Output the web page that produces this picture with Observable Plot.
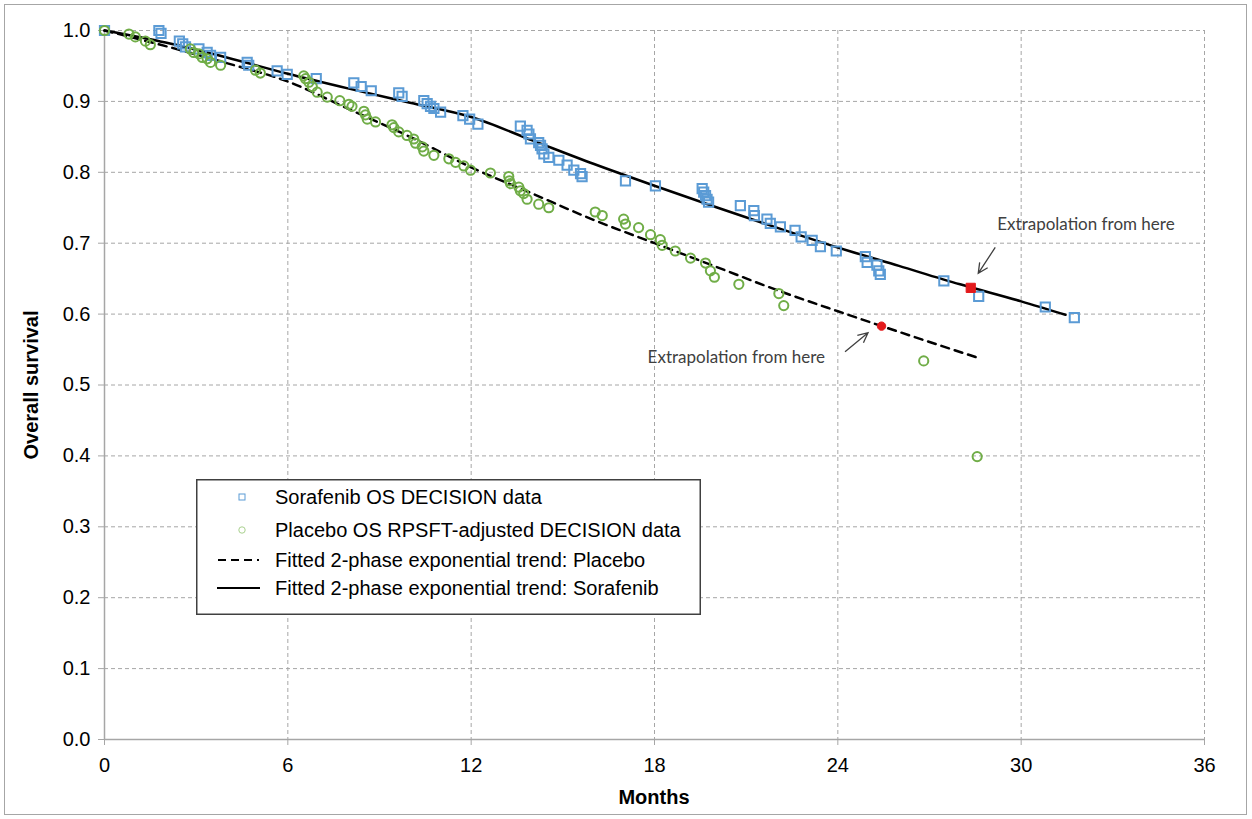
<!DOCTYPE html>
<html>
<head>
<meta charset="utf-8">
<script src="https://cdn.jsdelivr.net/npm/d3@7"></script>
<script src="https://cdn.jsdelivr.net/npm/@observablehq/plot@0.6"></script>
<style>
html,body{margin:0;padding:0;background:#fff;}
#wrap{position:relative;width:1252px;height:819px;font-family:"Liberation Sans",Arial,sans-serif;overflow:hidden;}
#border{position:absolute;left:4px;top:4px;width:1243px;height:811px;border:1px solid #a6a6a6;box-sizing:border-box;pointer-events:none;}
#chart{position:absolute;left:0;top:0;}
#ylab{position:absolute;left:31px;top:385px;transform:translate(-50%,-50%) rotate(-90deg);font-weight:bold;font-size:20px;white-space:nowrap;color:#000;}
#xlab{position:absolute;left:654px;top:797px;transform:translate(-50%,-50%);font-weight:bold;font-size:20px;color:#000;}
#legend{position:absolute;left:196px;top:479px;}
</style>
</head>
<body>
<div id="wrap">
  <div id="border"></div>
  <div id="chart"></div>
  <div id="ylab">Overall survival</div>
  <div id="xlab">Months</div>
  <div id="legend"></div>
</div>
<script>
// ---- data ----
const xTicks = [0, 6, 12, 18, 24, 30, 36];
const yTicks = [0, 0.1, 0.2, 0.3, 0.4, 0.5, 0.6, 0.7, 0.8, 0.9, 1.0];

const seriesNames = [
  "Sorafenib OS DECISION data",
  "Placebo OS RPSFT-adjusted DECISION data",
  "Fitted 2-phase exponential trend: Placebo",
  "Fitted 2-phase exponential trend: Sorafenib"
];
const annotationText = "Extrapolation from here";

// Sorafenib observed OS (months, survival)
const sorafenibMonths = [0,1.78,1.85,2.45,2.56,2.65,3.09,3.36,3.47,3.80,4.67,4.72,5.65,5.98,6.93,8.16,8.40,8.73,9.63,9.74,10.45,10.56,10.67,10.78,11.0,11.73,11.95,12.22,13.61,13.83,13.89,13.94,14.21,14.27,14.32,14.38,14.54,14.87,15.14,15.36,15.58,15.63,17.05,18.03,19.56,19.61,19.67,19.72,19.77,20.81,21.25,21.27,21.68,21.79,22.12,22.6,22.8,23.16,23.43,23.95,24.9,24.96,25.28,25.34,25.39,27.47,28.61,30.79,31.74];
const sorafenibSurv   = [1.0,1.0,0.996,0.985,0.981,0.977,0.974,0.969,0.965,0.962,0.955,0.951,0.943,0.938,0.932,0.926,0.921,0.915,0.912,0.907,0.901,0.897,0.893,0.890,0.885,0.880,0.875,0.868,0.865,0.859,0.854,0.847,0.842,0.838,0.833,0.826,0.821,0.817,0.810,0.803,0.798,0.794,0.788,0.781,0.777,0.772,0.767,0.762,0.758,0.753,0.746,0.739,0.734,0.728,0.723,0.718,0.709,0.704,0.695,0.689,0.681,0.673,0.669,0.661,0.656,0.647,0.625,0.610,0.595];

// Placebo RPSFT-adjusted observed OS
const placeboMonths = [0,0.8,1.01,1.34,1.5,2.81,2.92,3.09,3.2,3.36,3.47,3.8,4.94,5.1,6.52,6.58,6.69,6.8,6.96,7.29,7.7,8.0,8.1,8.49,8.54,8.6,8.87,9.41,9.47,9.63,9.9,10.12,10.18,10.4,10.45,10.78,11.27,11.49,11.76,11.98,12.63,13.23,13.25,13.29,13.56,13.61,13.72,13.83,14.21,14.54,16.06,16.29,16.99,17.05,17.48,17.87,18.19,18.25,18.68,19.18,19.67,19.83,19.96,20.76,22.07,22.23,26.81,28.56];
const placeboSurv   = [1.0,0.995,0.991,0.985,0.980,0.974,0.969,0.967,0.962,0.960,0.955,0.951,0.944,0.940,0.936,0.932,0.927,0.921,0.913,0.906,0.901,0.896,0.893,0.886,0.881,0.875,0.871,0.867,0.863,0.857,0.852,0.847,0.841,0.836,0.830,0.824,0.819,0.814,0.809,0.803,0.799,0.794,0.788,0.784,0.779,0.774,0.770,0.762,0.755,0.750,0.744,0.739,0.734,0.727,0.722,0.712,0.705,0.697,0.689,0.679,0.672,0.661,0.652,0.642,0.629,0.612,0.534,0.399];

// Fitted 2-phase exponential trends
const sorafenibFitMonths = [0,2,4,6,8,10,12,14,16,18,20,22,24,26,28,30,31.45];
const sorafenibFitSurv   = [1.0,0.983,0.962,0.939,0.918,0.898,0.878,0.845,0.812,0.781,0.751,0.722,0.694,0.668,0.642,0.618,0.599];
const placeboFitMonths = [0,2,4,6,8,10,12,14,16,18,20,22,24,26,28.61];
const placeboFitSurv   = [1.0,0.978,0.954,0.928,0.889,0.850,0.807,0.770,0.733,0.700,0.667,0.634,0.604,0.575,0.538];

// Extrapolation start points
const extrapSorafenib = [{m: 28.35, s: 0.637}];
const extrapPlacebo = [{m: 25.43, s: 0.583}];

// ---- build tables ----
const zip = (ms, ss) => ms.map((m, i) => ({m, s: ss[i]}));
const sorafenibPts = zip(sorafenibMonths, sorafenibSurv);
const placeboPts = zip(placeboMonths, placeboSurv);
const sorafenibFit = zip(sorafenibFitMonths, sorafenibFitSurv);
const placeboFit = zip(placeboFitMonths, placeboFitSurv);

const BLUE = "#5b9bd5", GREEN = "#70ad47", RED = "#e31a1c", GRID = "#a6a6a6";

const plot = Plot.plot({
  width: 1252, height: 819,
  marginLeft: 104, marginRight: 48, marginTop: 30, marginBottom: 80,
  style: {fontFamily: "'Liberation Sans', Arial, sans-serif", fontSize: "20px", color: "#000", background: "transparent"},
  x: {domain: [0, 36]},
  y: {domain: [0, 1]},
  marks: [
    Plot.gridY(yTicks.filter(d => d > 0), {stroke: GRID, strokeOpacity: 1, strokeWidth: 1, strokeDasharray: "4,3"}),
    Plot.gridX(xTicks.filter(d => d > 0), {stroke: GRID, strokeOpacity: 1, strokeWidth: 1, strokeDasharray: "4,3"}),
    Plot.ruleX([0], {stroke: GRID, strokeWidth: 1.5}),
    Plot.ruleY([0], {stroke: GRID, strokeWidth: 1.5}),
    Plot.axisY({ticks: yTicks, tickFormat: d3.format(".1f"), tickSize: 6, tickPadding: 8, stroke: GRID, label: null}),
    Plot.axisX({ticks: xTicks, tickFormat: d => String(d), tickSize: 6, tickPadding: 12, stroke: GRID, label: null}),
    Plot.line(placeboFit, {x: "m", y: "s", stroke: "#000", strokeWidth: 2.5, strokeDasharray: "8,6", curve: "monotone-x"}),
    Plot.line(sorafenibFit, {x: "m", y: "s", stroke: "#000", strokeWidth: 2.5, curve: "monotone-x"}),
    Plot.dot(sorafenibPts, {x: "m", y: "s", symbol: "square", r: 5.2, stroke: BLUE, strokeWidth: 2, fill: "none"}),
    Plot.dot(placeboPts, {x: "m", y: "s", symbol: "circle", r: 4.6, stroke: GREEN, strokeWidth: 2, fill: "none"}),
    Plot.dot(extrapSorafenib, {x: "m", y: "s", symbol: "square", r: 5.2, fill: RED, stroke: RED, strokeWidth: 1}),
    Plot.dot(extrapPlacebo, {x: "m", y: "s", symbol: "circle", r: 4.2, fill: RED, stroke: RED, strokeWidth: 1})
  ]
});
document.getElementById("chart").appendChild(plot);

// ---- annotations (anchored to the extrapolation points via the plot scales) ----
const sx = plot.scale("x"), sy = plot.scale("y");
const svg = d3.select(plot);
const ann = svg.append("g").attr("font-family", "Lato, 'Open Sans', sans-serif").attr("font-size", 17).attr("fill", "#404040");
function arrow(x1, y1, x2, y2) {
  const a = Math.atan2(y2 - y1, x2 - x1), L = 11, w = 0.45;
  const p = `M${x1},${y1}L${x2},${y2}M${x2 - L * Math.cos(a - w)},${y2 - L * Math.sin(a - w)}L${x2},${y2}L${x2 - L * Math.cos(a + w)},${y2 - L * Math.sin(a + w)}`;
  ann.append("path").attr("d", p).attr("fill", "none").attr("stroke", "#404040").attr("stroke-width", 1.3);
}
{
  const p = extrapSorafenib[0], px = sx.apply(p.m), py = sy.apply(p.s);
  ann.append("text").attr("x", px + 27).attr("y", py - 63).attr("dy", "0.35em").attr("text-anchor", "start").text(annotationText);
  arrow(px + 25, py - 40, px + 8, py - 14);
}
{
  const p = extrapPlacebo[0], px = sx.apply(p.m), py = sy.apply(p.s);
  ann.append("text").attr("x", px - 56).attr("y", py + 31).attr("dy", "0.35em").attr("text-anchor", "end").text(annotationText);
  arrow(px - 36, py + 26, px - 13, py + 7);
}

// ---- legend ----
const lw = 505, lh = 136;
const lg = d3.select("#legend").append("svg").attr("width", lw).attr("height", lh)
  .style("font-family", "'Liberation Sans', Arial, sans-serif").style("font-size", "20px");
lg.append("rect").attr("x", 0.75).attr("y", 0.75).attr("width", lw - 1.5).attr("height", lh - 1.5).attr("fill", "#fff").attr("stroke", "#404040").attr("stroke-width", 1.5);
const rowsY = [18, 51, 81, 109];
lg.append("rect").attr("x", 43).attr("y", rowsY[0] - 3).attr("width", 6).attr("height", 6).attr("fill", "none").attr("stroke", BLUE).attr("stroke-width", 1);
lg.append("circle").attr("cx", 46).attr("cy", rowsY[1]).attr("r", 3.2).attr("fill", "none").attr("stroke", "#a9d18e").attr("stroke-width", 1);
lg.append("line").attr("x1", 22).attr("x2", 63).attr("y1", rowsY[2]).attr("y2", rowsY[2]).attr("stroke", "#000").attr("stroke-width", 1.8).attr("stroke-dasharray", "8,5");
lg.append("line").attr("x1", 21).attr("x2", 64).attr("y1", rowsY[3]).attr("y2", rowsY[3]).attr("stroke", "#000").attr("stroke-width", 1.8);
seriesNames.forEach((t, i) => {
  lg.append("text").attr("x", 79).attr("y", rowsY[i]).attr("dy", "0.35em").attr("fill", "#000").text(t);
});
</script>
</body>
</html>
